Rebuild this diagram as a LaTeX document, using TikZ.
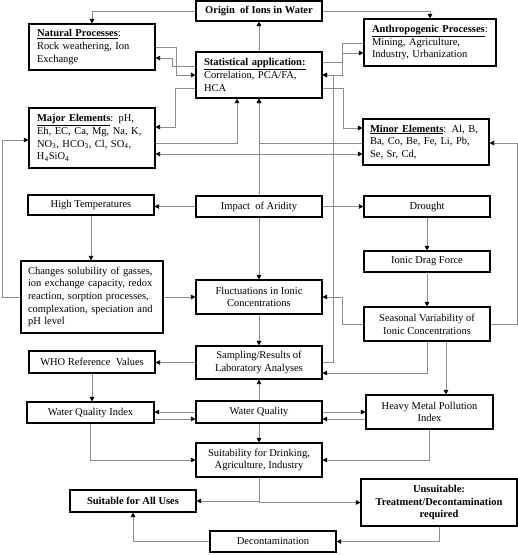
\documentclass[tikz,border=0pt]{standalone}
\usepackage{fontspec}
\setmainfont{Liberation Serif}
\usetikzlibrary{arrows.meta}
\definecolor{linegray}{HTML}{8C8C8C}
\tikzset{
  x=1pt,y=-1pt,
  box/.style={draw=black,line width=1.1pt,fill=white,inner sep=0pt,
    font=\fontsize{10.5}{12.7}\selectfont,align=center},
  lbox/.style={box,align=left},
  conn/.style={draw=linegray,line width=0.8pt,
    -{Triangle[length=4.5pt,width=4.5pt,color=black]}},
  bconn/.style={draw=linegray,line width=0.8pt,
    {Triangle[length=4.5pt,width=4.5pt,color=black]}-{Triangle[length=4.5pt,width=4.5pt,color=black]}}
}
\begin{document}
\begin{tikzpicture}
\useasboundingbox (0,0) rectangle (518,555);
% nodes
\node[box,minimum width=126pt,minimum height=20pt] (origin) at (259,11) {\textbf{Origin\ \ of Ions in Water}};
\node[lbox,minimum width=126pt,minimum height=46pt,text width=110pt] (nat) at (92,47) {\underline{\textbf{Natural Processes}}:\\Rock weathering,\ Ion\\Exchange};
\node[lbox,minimum width=126pt,minimum height=46pt,text width=110pt] (stat) at (259,75) {\underline{\textbf{Statistical application:}}\\Correlation, PCA/FA,\\HCA};
\node[lbox,minimum width=132pt,minimum height=47pt,text width=116pt] (anth) at (430,42.5) {\underline{\textbf{Anthropogenic Processes}}:\\Mining, Agriculture,\\Industry,\ Urbanization};
\node[lbox,minimum width=126pt,minimum height=60pt,text width=110pt] (major) at (92,138) {\underline{\textbf{Major Elements}}: pH,\\Eh, EC, Ca, Mg, Na, K,\\NO\textsubscript{3}, HCO\textsubscript{3}, Cl, SO\textsubscript{4},\\H\textsubscript{4}SiO\textsubscript{4}};
\node[lbox,minimum width=126pt,minimum height=46pt,text width=112pt] (minor) at (426,142) {\underline{\textbf{Minor Elements}}: Al, B,\\Ba, Co,\ Be, Fe, Li, Pb,\\Se, Sr, Cd,};
\node[box,minimum width=126pt,minimum height=20pt] (hight) at (91,205) {High Temperatures};
\node[box,minimum width=126pt,minimum height=21pt] (arid) at (259,206.5) {Impact\ \ of Aridity};
\node[box,minimum width=126pt,minimum height=21pt] (drought) at (427,206.5) {Drought};
\node[box,minimum width=126pt,minimum height=21pt] (drag) at (427,261.5) {Ionic Drag Force};
\node[lbox,minimum width=142pt,minimum height=72pt,text width=128pt] (changes) at (92,297) {Changes\ solubility of gasses,\\ion exchange\ capacity,\ redox\\reaction,\ sorption processes,\\complexation,\ speciation and\\pH level};
\node[box,minimum width=126pt,minimum height=34pt] (fluct) at (259,297) {Fluctuations in Ionic\\Concentrations};
\node[box,minimum width=126pt,minimum height=34pt] (season) at (427,324) {Seasonal Variability of\\Ionic Concentrations};
\node[box,minimum width=126pt,minimum height=33pt] (sampling) at (259,362.5) {Sampling/Results of\\Laboratory Analyses};
\node[box,minimum width=126pt,minimum height=22pt] (who) at (92,362) {WHO Reference\ \ Values};
\node[box,minimum width=127pt,minimum height=21pt] (wqi) at (90.5,412.5) {Water\ Quality Index};
\node[box,minimum width=126pt,minimum height=22pt] (wq) at (259,412) {Water Quality};
\node[box,minimum width=127pt,minimum height=34pt] (hmpi) at (429.5,412) {Heavy\ Metal Pollution\\Index};
\node[box,minimum width=126pt,minimum height=34pt] (suit) at (259,460) {Suitability for Drinking,\\Agriculture, Industry};
\node[box,minimum width=126pt,minimum height=22pt] (allu) at (133,501) {\textbf{Suitable for All Uses}};
\node[box,minimum width=156pt,minimum height=47pt] (unsuit) at (439,502.5) {\textbf{Unsuitable:}\\\textbf{Treatment/Decontamination}\\\textbf{required}};
\node[box,minimum width=126pt,minimum height=21pt] (decon) at (273,541.5) {Decontamination};
% connectors
\draw[conn] (origin.west) -| (nat.north);
\draw[conn] (origin.east) -| (anth.north);
\draw[conn] (stat.north) -- (origin.south);
\draw[conn] (nat.east |- 0,47) -- ++(21,0) |- (stat.west |- 0,75);
\draw[conn] (stat.west |- 0,66) -- ++(-23,0) |- (nat.east |- 0,58);
\draw[conn] (stat.west |- 0,88) -- ++(-20,0) |- (major.east |- 0,127);
\draw[conn] (major.east |- 0,143) -| (stat.south -| 237,0);
\draw[bconn] (major.east |- 0,154) -- (minor.west |- 0,154);
\draw[conn] (minor.west |- 0,143) -| (stat.south);
\draw[conn] (arid.north) -- (stat.south);
\draw[conn] (stat.east |- 0,62) -- ++(20,0) |- (anth.west |- 0,53);
\draw[conn] (anth.west |- 0,43) -- ++(-21,0) |- (stat.east |- 0,75);
\draw[conn] (sampling.east) -- ++(11,0) |- (stat.east |- 0,75);
\draw[conn] (stat.east |- 0,88) -- ++(21,0) |- (minor.west |- 0,128);
\draw[conn] (season.east) -- ++(27,0) |- (minor.east |- 0,143);
\draw[conn] (changes.west) -- ++(-18,0) |- (major.west |- 0,140);
\draw[conn] (arid.west) -- (arid.west -| hight.east);
\draw[conn] (arid.east) -- (drought.west);
\draw[conn] (hight.south) -- (hight.south |- changes.north);
\draw[conn] (arid.south) -- (fluct.north);
\draw[conn] (changes.east) -- (fluct.west);
\draw[conn] (drought.south) -- (drag.north);
\draw[conn] (drag.south) -- (season.north);
\draw[conn] (season.west) -- ++(-21,0) |- (fluct.east);
\draw[conn] (fluct.south) -- (sampling.north);
\draw[conn] (season.south) |- (sampling.east |- 0,373);
\draw[conn] (season.south -| 446,0) -- (hmpi.north -| 446,0);
\draw[conn] (sampling.west) -- (sampling.west -| who.east);
\draw[conn] (who.south) -- (who.south |- wqi.north);
\draw[conn] (wq.west |- 0,412) -- (wqi.east |- 0,412);
\draw[conn] (wqi.east |- 0,419) -- (wq.west |- 0,419);
\draw[conn] (wq.east |- 0,412) -- (hmpi.west |- 0,412);
\draw[conn] (hmpi.west |- 0,419) -- (wq.east |- 0,419);
\draw[conn] (wq.north) -- (sampling.south);
\draw[conn] (wq.south) -- (suit.north);
\draw[conn] (wqi.south) |- (suit.west);
\draw[conn] (hmpi.south) |- (suit.east);
\draw[conn] (suit.south) |- (allu.east);
\draw[conn] (suit.south) |- (unsuit.west);
\draw[conn] (unsuit.south) |- (decon.east);
\draw[conn] (decon.west) -| (allu.south);
\end{tikzpicture}
\end{document}
